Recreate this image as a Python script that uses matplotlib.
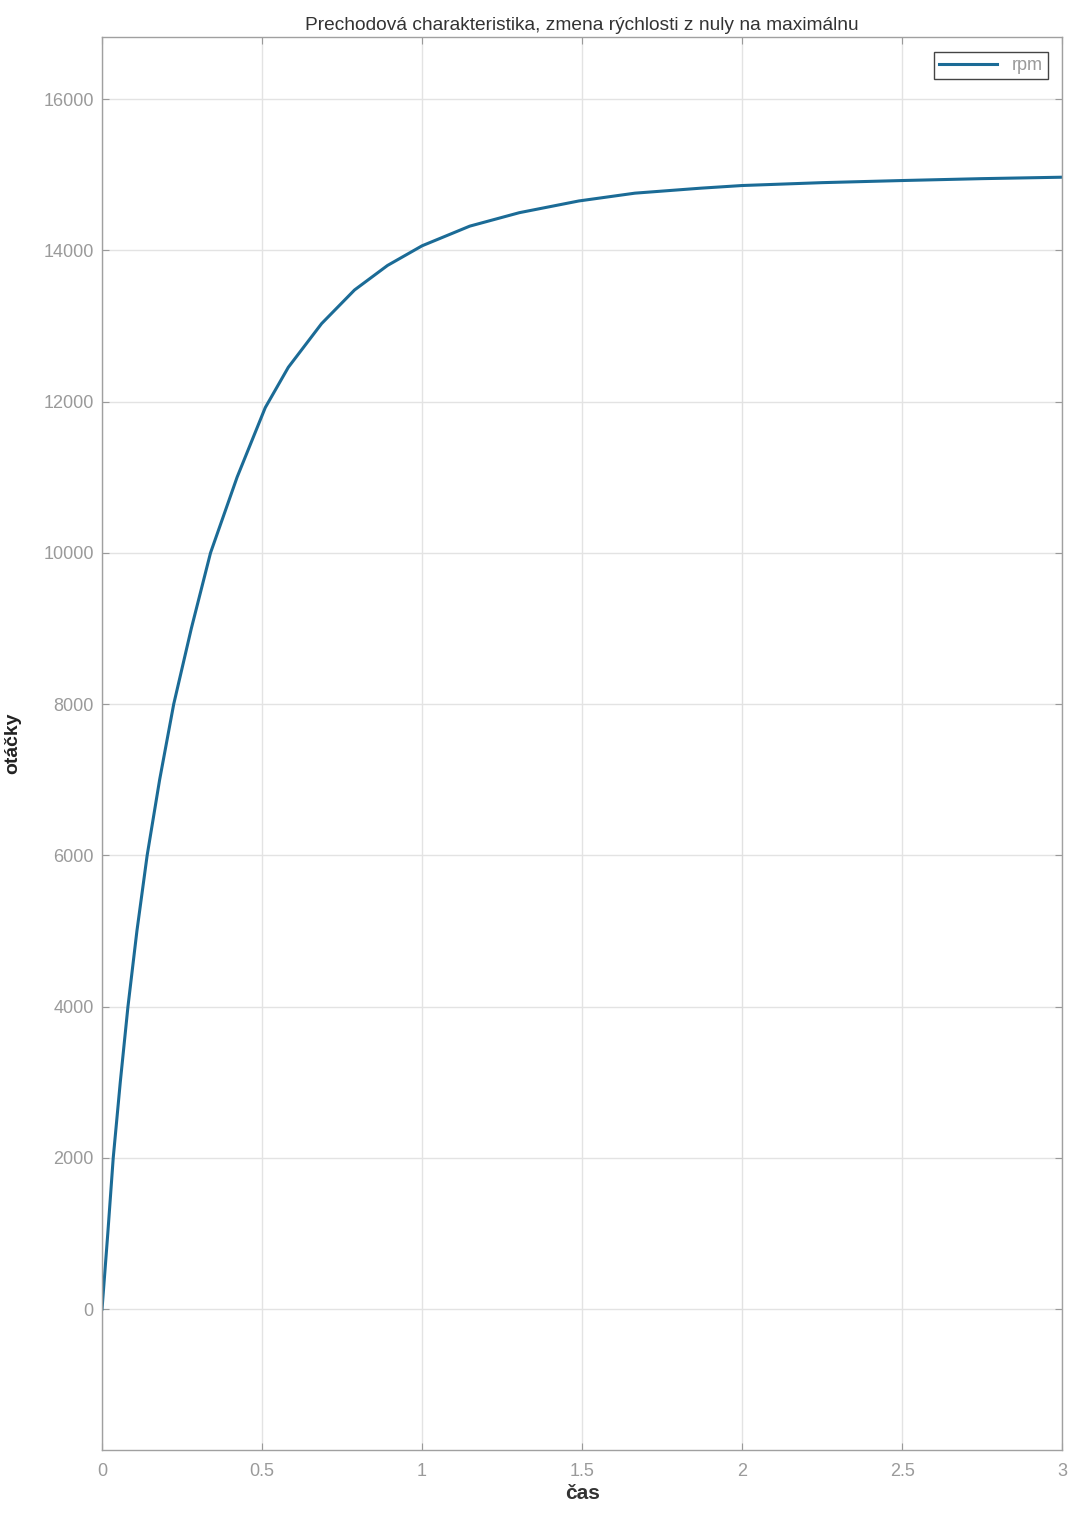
import matplotlib
matplotlib.use('Agg')
import matplotlib.pyplot as plt

# Step response: time (s) and speed (rpm)
cas = [0.0, 0.018, 0.035, 0.057, 0.081, 0.109, 0.141, 0.18, 0.224, 0.279,
       0.339, 0.422, 0.51, 0.582, 0.686, 0.789, 0.892, 1.0, 1.149, 1.304,
       1.49, 1.665, 1.871, 2.0, 2.25, 2.5, 2.75, 3.0]
otacky = [0, 1000, 2000, 3000, 4000, 5000, 6000, 7000, 8000, 9000,
          10000, 11000, 11920, 12453, 13031, 13476, 13800, 14060, 14320, 14498,
          14653, 14756, 14822, 14857, 14895, 14923, 14948, 14967]

xticks = [0, 0.5, 1, 1.5, 2, 2.5, 3]
xticklabels = ['0', '0.5', '1', '1.5', '2', '2.5', '3']
yticks = list(range(0, 16001, 2000))

plt.rcParams['font.family'] = ['Liberation Sans', 'DejaVu Sans']

fig = plt.figure(figsize=(10.74, 15.13), dpi=100)
ax = fig.add_axes([0.095, 0.0416, 0.894, 0.9339])

ax.plot(cas, otacky, color='#1b6b96', linewidth=2.2, label='rpm',
        solid_joinstyle='round')

ax.set_xlim(0, 3)
ax.set_ylim(-1864, 16820)
ax.set_xticks(xticks)
ax.set_xticklabels(xticklabels)
ax.set_yticks(yticks)
ax.tick_params(axis='both', direction='in', colors='#9a9a9a', labelsize=13,
               length=5, top=True, right=True, labelcolor='#9a9a9a')
ax.tick_params(axis='x', pad=9)
ax.tick_params(axis='y', pad=6)
ax.grid(True, color='#e3e3e3', linewidth=1.0)
for s in ax.spines.values():
    s.set_color('#a0a0a0')
    s.set_linewidth(1.0)

ax.set_title('Prechodová charakteristika, zmena rýchlosti z nuly na maximálnu',
             fontsize=13.8, color='#333333', pad=5)
ax.set_xlabel('čas', fontsize=15, fontweight='bold', color='#333333', labelpad=3)
ax.set_ylabel('otáčky', fontsize=14, fontweight='bold', color='#222222', labelpad=16)

leg = ax.legend(loc='upper right', fontsize=13, fancybox=False, framealpha=1,
                edgecolor='#444444', handlelength=3.2, borderpad=0.3,
                borderaxespad=0.8)
for t in leg.get_texts():
    t.set_color('#9a9a9a')

fig.savefig('out.png', dpi=100)
